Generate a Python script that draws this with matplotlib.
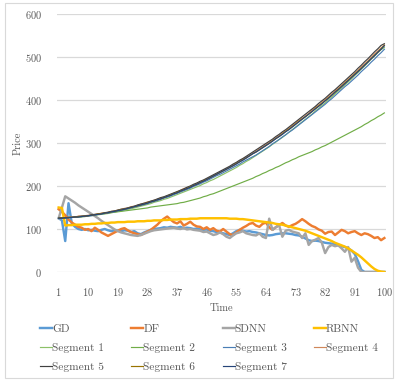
import matplotlib
matplotlib.use("Agg")
import matplotlib.pyplot as plt
from matplotlib.patches import Rectangle

plt.rcParams['font.family'] = ['cmr10', 'DejaVu Serif']
plt.rcParams['axes.formatter.use_mathtext'] = True

x = list(range(1, 101))
xticks = [1, 10, 19, 28, 37, 46, 55, 64, 73, 82, 91, 100]
yticks = [0, 100, 200, 300, 400, 500, 600]

gd = [125, 120, 72, 160, 113, 105, 100, 98, 100, 97,
      98, 96, 95, 98, 100, 97, 95, 97, 96, 95,
      97, 96, 93, 95, 90, 88, 92, 95, 98, 100,
      101, 102, 104, 103, 105, 104, 103, 105, 102, 103,
      102, 100, 101, 99, 98, 99, 96, 95, 93, 92,
      90, 88, 86, 90, 95, 98, 96, 94, 95, 93,
      92, 90, 88, 86, 85, 86, 88, 89, 90, 90,
      89, 88, 86, 85, 82, 78, 74, 72, 73, 72,
      70, 68, 67, 66, 64, 62, 60, 58, 55, 50,
      42, 25, 5, 0, 0, 0, 0, 0, 0, 0]

df = [146, 140, 132, 122, 115, 110, 105, 103, 98, 100,
      95, 103, 98, 92, 88, 84, 88, 92, 96, 100,
      102, 97, 93, 90, 88, 86, 90, 94, 98, 104,
      110, 118, 124, 129, 122, 116, 113, 118, 108, 112,
      117, 110, 106, 105, 100, 104, 98, 102, 96, 94,
      100, 94, 88, 86, 92, 98, 103, 107, 112, 114,
      108, 105, 112, 115, 104, 98, 104, 109, 114, 108,
      105, 109, 112, 117, 123, 118, 112, 107, 104, 99,
      96, 89, 93, 94, 86, 92, 98, 95, 90, 93,
      95, 90, 86, 90, 88, 84, 79, 81, 74, 79]

sdnn = [125, 150, 176, 171, 166, 161, 155, 150, 145, 140,
        135, 130, 125, 119, 114, 109, 104, 99, 95, 92,
        90, 88, 86, 85, 84, 86, 89, 92, 95, 97,
        98, 99, 100, 101, 102, 103, 101, 100, 102, 99,
        100, 98, 97, 96, 93, 94, 90, 86, 88, 92,
        88, 82, 79, 85, 90, 92, 95, 90, 88, 86,
        85, 90, 82, 79, 124, 98, 104, 109, 82, 96,
        98, 94, 92, 90, 79, 90, 63, 72, 75, 79,
        68, 44, 58, 63, 60, 62, 55, 47, 58, 24,
        33, 10, 0, 0, 0, 0, 0, 0, 0, 0]

rbnn = [150, 149, 108, 109, 109, 110, 110, 110, 111, 111,
        112, 112, 113, 113, 114, 114, 115, 115, 116, 116,
        116, 117, 117, 117, 118, 118, 118, 119, 119, 120,
        120, 120, 121, 121, 122, 122, 122, 123, 123, 123,
        124, 124, 124, 125, 125, 125, 125, 125, 125, 125,
        125, 125, 124, 124, 124, 123, 123, 122, 121, 120,
        119, 118, 117, 116, 115, 114, 112, 111, 110, 108,
        106, 104, 102, 100, 98, 96, 93, 90, 87, 84,
        81, 78, 75, 72, 68, 65, 62, 59, 55, 50,
        45, 40, 34, 27, 20, 13, 7, 3, 1, 0]

seg1 = [125, 125, 126, 126, 127, 127, 128, 128, 129, 130,
        131, 132, 133, 134, 135, 136, 138, 139, 141, 142,
        144, 146, 147, 149, 151, 153, 155, 157, 159, 162,
        164, 166, 169, 171, 174, 177, 180, 183, 186, 189,
        192, 195, 198, 201, 205, 208, 212, 215, 219, 223,
        227, 231, 235, 239, 243, 248, 252, 257, 261, 266,
        271, 276, 281, 286, 291, 297, 302, 308, 313, 319,
        325, 331, 337, 343, 349, 355, 361, 367, 374, 380,
        387, 393, 400, 407, 414, 421, 428, 435, 442, 449,
        457, 464, 472, 479, 487, 495, 502, 510, 517, 522]

seg2 = [125, 126, 126, 127, 127, 128, 128, 129, 130, 131,
        132, 133, 134, 135, 136, 137, 138, 139, 140, 141,
        142, 143, 144, 145, 146, 147, 148, 149, 151, 152,
        153, 154, 155, 156, 157, 158, 159, 161, 162, 164,
        166, 168, 170, 172, 175, 177, 180, 182, 185, 188,
        191, 194, 197, 200, 203, 206, 209, 212, 215, 218,
        222, 225, 229, 232, 236, 239, 243, 246, 250, 254,
        257, 261, 264, 268, 271, 274, 277, 280, 284, 287,
        291, 294, 298, 302, 306, 310, 314, 318, 322, 326,
        330, 334, 338, 343, 347, 352, 356, 361, 365, 370]

seg3 = [125, 125, 126, 126, 127, 127, 128, 129, 129, 130,
        131, 132, 134, 135, 136, 137, 139, 140, 142, 144,
        145, 147, 149, 151, 153, 155, 157, 159, 162, 164,
        166, 169, 172, 174, 177, 180, 183, 186, 189, 192,
        195, 199, 202, 205, 209, 212, 216, 220, 224, 227,
        231, 235, 239, 243, 247, 251, 256, 260, 264, 268,
        272, 277, 282, 287, 292, 298, 303, 308, 314, 319,
        325, 330, 336, 342, 348, 354, 360, 366, 372, 378,
        384, 390, 397, 403, 410, 417, 424, 431, 437, 444,
        451, 458, 466, 473, 480, 488, 495, 503, 510, 518]

seg4 = [125, 125, 127, 127, 128, 128, 130, 130, 131, 132,
        132, 134, 135, 137, 137, 139, 141, 142, 144, 146,
        148, 149, 152, 153, 155, 158, 160, 163, 164, 167,
        169, 172, 174, 177, 180, 183, 186, 190, 194, 196,
        199, 202, 206, 209, 213, 216, 220, 224, 228, 232,
        236, 240, 244, 249, 253, 258, 263, 267, 271, 276,
        281, 286, 291, 296, 301, 306, 312, 317, 323, 328,
        334, 340, 346, 352, 357, 363, 369, 376, 382, 388,
        394, 401, 407, 414, 421, 427, 434, 441, 448, 455,
        462, 469, 477, 484, 491, 499, 507, 514, 521, 528]

seg5 = [125, 126, 126, 127, 127, 128, 129, 130, 130, 131,
        133, 134, 135, 136, 138, 139, 141, 142, 144, 146,
        147, 149, 151, 153, 156, 158, 160, 162, 165, 167,
        170, 173, 175, 178, 181, 184, 187, 190, 193, 197,
        200, 204, 207, 211, 214, 218, 222, 226, 230, 234,
        238, 242, 246, 251, 255, 260, 264, 269, 274, 279,
        284, 289, 294, 299, 304, 309, 315, 320, 326, 331,
        337, 343, 349, 355, 361, 367, 373, 379, 385, 392,
        398, 404, 411, 418, 424, 431, 438, 445, 452, 459,
        466, 474, 481, 489, 496, 504, 512, 519, 527, 531]

seg6 = [125, 126, 126, 127, 127, 128, 129, 129, 130, 131,
        132, 133, 135, 136, 137, 138, 140, 141, 143, 145,
        146, 148, 150, 152, 154, 156, 158, 161, 163, 165,
        168, 170, 173, 176, 179, 182, 185, 188, 191, 194,
        198, 201, 204, 208, 212, 215, 219, 223, 227, 231,
        235, 239, 243, 247, 252, 256, 261, 265, 270, 275,
        279, 284, 289, 294, 299, 305, 310, 315, 321, 327,
        332, 338, 344, 350, 356, 361, 367, 373, 380, 386,
        392, 398, 405, 411, 418, 425, 432, 439, 446, 453,
        460, 467, 474, 481, 489, 496, 504, 511, 519, 527]

seg7 = [125, 125, 126, 126, 127, 128, 128, 129, 130, 131,
        132, 133, 134, 135, 137, 138, 140, 141, 143, 144,
        146, 148, 150, 152, 154, 156, 158, 160, 163, 165,
        168, 170, 173, 176, 178, 182, 184, 188, 191, 194,
        197, 201, 204, 208, 211, 215, 219, 223, 227, 231,
        235, 239, 243, 247, 251, 256, 260, 265, 270, 275,
        279, 284, 289, 294, 299, 304, 310, 315, 320, 326,
        331, 337, 343, 349, 355, 361, 367, 373, 379, 385,
        391, 398, 404, 411, 418, 424, 431, 438, 445, 452,
        459, 466, 473, 481, 488, 496, 503, 511, 518, 526]

main_series = [("GD", gd, "#5B9BD5"), ("DF", df, "#ED7D31"),
               ("SDNN", sdnn, "#A5A5A5"), ("RBNN", rbnn, "#FFC000")]
seg_series = [("Segment 1", seg1, "#8CC168"), ("Segment 2", seg2, "#70AD47"),
              ("Segment 3", seg3, "#4A7EB5"), ("Segment 4", seg4, "#D0875A"),
              ("Segment 5", seg5, "#404040"), ("Segment 6", seg6, "#997300"),
              ("Segment 7", seg7, "#264478")]

fig = plt.figure(figsize=(3.95, 3.80), dpi=100)
fig.patches.append(Rectangle((5/395, 2/380), 388/395, 375/380, transform=fig.transFigure,
                             fill=False, edgecolor="#D9D9D9", linewidth=0.8))
ax = fig.add_axes([57/395, 1 - 272/380, 329/395, 258/380])

handles = []
labels = []
for name, vals, col in main_series:
    h, = ax.plot(x, vals, color=col, linewidth=1.75, label=name, solid_joinstyle='round')
    handles.append(h); labels.append(name)
for name, vals, col in seg_series:
    h, = ax.plot(x, vals, color=col, linewidth=0.85, label=name)
    handles.append(h); labels.append(name)

ax.set_xlim(0.5, 100.5)
ax.set_ylim(0, 600)
ax.set_xticks(xticks)
ax.set_yticks(yticks)
ax.tick_params(length=0, labelsize=7.5, labelcolor="#595959")
ax.tick_params(axis='x', pad=10)
ax.tick_params(axis='y', pad=11)
ax.grid(axis='y', color="#D9D9D9", linewidth=0.9)
ax.set_axisbelow(True)
for s in ax.spines.values():
    s.set_visible(False)
ax.set_xlabel("Time", fontsize=7.5, color="#595959", labelpad=4)
ax.set_ylabel("Price", fontsize=7.5, color="#595959", labelpad=1.5)

# legend filled row by row (4 columns, 3 rows)
order = [0, 4, 8, 1, 5, 9, 2, 6, 10, 3, 7]
fig.legend([handles[i] for i in order], [labels[i] for i in order],
           loc='upper left', bbox_to_anchor=(40/395, 1 - 324/380), ncol=4, frameon=False,
           fontsize=8.2, handlelength=1.05, handletextpad=0.0, columnspacing=2.4,
           labelspacing=0.78, borderaxespad=0, borderpad=0, labelcolor="#595959")

fig.savefig("out.png", dpi=100)
